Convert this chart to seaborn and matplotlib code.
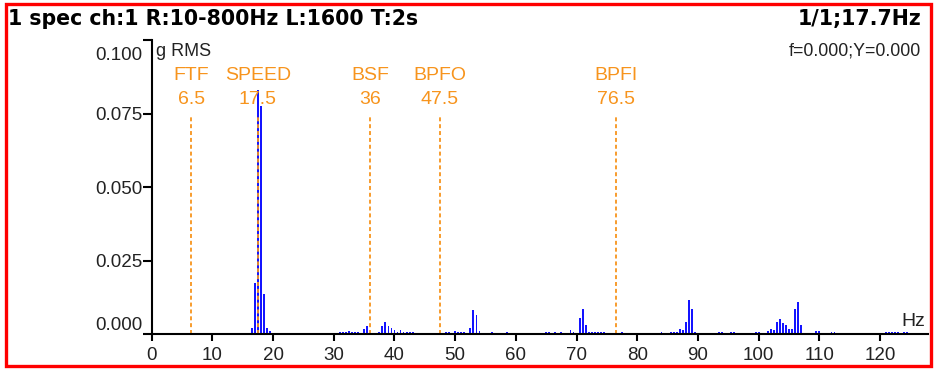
import matplotlib

matplotlib.use("Agg", force=True)
import matplotlib.pyplot as plt
import matplotlib.transforms as mtransforms
import pandas as pd
import seaborn as sns
from matplotlib.patches import Rectangle

# spectrum lines (0.5 Hz bins), only the non-zero ones
FREQS = [
    13.5, 16.0, 16.5, 17.0, 17.5, 18.0, 18.5, 19.0, 19.5,
    31.0, 31.5, 32.0, 32.5, 33.0, 33.5, 34.0, 35.0, 35.5,
    37.5, 38.0, 38.5, 39.0, 39.5, 40.0, 40.5, 41.0, 41.5, 42.0, 42.5, 43.0,
    48.5, 49.0, 50.0, 50.5, 51.0, 51.5, 52.5, 53.0, 53.5, 54.0,
    56.0, 58.5, 65.0, 65.5, 66.5, 67.5,
    69.0, 69.5, 70.5, 71.0, 71.5, 72.0, 72.5, 73.0, 73.5, 74.0, 74.5, 77.5,
    84.0, 85.5, 86.0, 86.5, 87.0, 87.5, 88.0, 88.5, 89.0, 89.5,
    93.5, 94.0, 95.5, 96.0, 99.5, 100.0,
    101.0, 101.5, 102.0, 102.5, 103.0, 103.5, 104.0, 104.5, 105.0, 105.5, 106.0, 106.5, 107.0,
    109.5, 110.0, 110.5, 112.0, 112.5,
    121.0, 121.5, 122.0, 122.5, 123.0, 124.0, 124.5,
]
AMPS = [
    0.0005, 0.0005, 0.0020, 0.0175, 0.0830, 0.0775, 0.0135, 0.0020, 0.0010,
    0.0006, 0.0006, 0.0006, 0.0010, 0.0006, 0.0008, 0.0006, 0.0016, 0.0027,
    0.0007, 0.0028, 0.0041, 0.0028, 0.0020, 0.0012, 0.0008, 0.0015, 0.0007, 0.0007, 0.0007, 0.0006,
    0.0006, 0.0006, 0.0011, 0.0007, 0.0007, 0.0007, 0.0021, 0.0083, 0.0066, 0.0011,
    0.0007, 0.0007, 0.0007, 0.0007, 0.0007, 0.0006,
    0.0014, 0.0006, 0.0054, 0.0085, 0.0030, 0.0006, 0.0006, 0.0006, 0.0006, 0.0006, 0.0006, 0.0006,
    0.0006, 0.0006, 0.0006, 0.0006, 0.0018, 0.0015, 0.0040, 0.0116, 0.0085, 0.0006,
    0.0006, 0.0006, 0.0006, 0.0006, 0.0006, 0.0006,
    0.0005, 0.0009, 0.0018, 0.0013, 0.0040, 0.0050, 0.0038, 0.0031, 0.0018, 0.0018, 0.0085, 0.0110, 0.0031,
    0.0009, 0.0009, 0.0005, 0.0006, 0.0006,
    0.0006, 0.0006, 0.0006, 0.0006, 0.0006, 0.0006, 0.0006,
]

MARKER_FREQS = [6.5, 17.5, 36.0, 47.5, 76.5]
MARKER_NAMES = ["FTF", "SPEED", "BSF", "BPFO", "BPFI"]
MARKER_LABELS = ["6.5", "17.5", "36", "47.5", "76.5"]

Y_TICKS = [0.0, 0.025, 0.05, 0.075, 0.1]
X_TICKS = [0, 10, 20, 30, 40, 50, 60, 70, 80, 90, 100, 110, 120]

BLUE = "#1414ff"
ORANGE = "#f7941d"

sns.set_theme(style="white")
plt.rcParams["font.family"] = ["Liberation Sans", "DejaVu Sans"]

W, H = 935, 369
fig = plt.figure(figsize=(W / 100, H / 100), dpi=100)
fig.patch.set_facecolor("white")

x0, x1, y0, y1 = 151.7, 928.0, 334.0, 40.0
ax = fig.add_axes([x0 / W, 1 - y0 / H, (x1 - x0) / W, (y0 - y1) / H])
ax.set_facecolor("white")

spec = pd.DataFrame({"freq": FREQS, "amp": AMPS})
sns.histplot(data=spec, x="freq", weights="amp", binwidth=0.5, binrange=(-0.25, 128.25),
             shrink=0.6, color=BLUE, alpha=1.0, linewidth=0, ax=ax)

ax.vlines(MARKER_FREQS, 0, 0.0745, colors=ORANGE, linestyles=(0, (2.2, 1.6)), lw=1.3)
for f, name, lab in zip(MARKER_FREQS, MARKER_NAMES, MARKER_LABELS):
    ax.text(f, 0.0878, name, color=ORANGE, ha="center", va="center", fontsize=14)
    ax.text(f, 0.0796, lab, color=ORANGE, ha="center", va="center", fontsize=14)

ax.set_xlim(0, 127.9)
ax.set_ylim(0, 0.1)
ax.set_xticks(X_TICKS)
ax.set_yticks(Y_TICKS)
ax.set_yticklabels([f"{v:.3f}" for v in Y_TICKS])
ax.set_xlabel("")
ax.set_ylabel("")
for side in ["top", "right"]:
    ax.spines[side].set_visible(False)
for side in ["left", "bottom"]:
    ax.spines[side].set_color("black")
    ax.spines[side].set_linewidth(1.5)
ax.tick_params(axis="both", direction="out", width=1.5, color="black",
               labelsize=13.5, labelcolor="#222222", left=True, bottom=True)
ax.tick_params(axis="y", length=6.5, pad=0.2)
ax.tick_params(axis="x", length=5, pad=4)

ylabels = ax.get_yticklabels()
ylabels[0].set_va("bottom")
ylabels[-1].set_va("top")
ylabels[-1].set_transform(ylabels[-1].get_transform()
                          + mtransforms.ScaledTranslation(0, -7 / 100, fig.dpi_scale_trans))

fig.text(8 / W, 1 - 19 / H, "1 spec ch:1 R:10-800Hz L:1600 T:2s", fontsize=14.8,
         fontweight="bold", family="DejaVu Sans", ha="left", va="center", color="black")
fig.text(921 / W, 1 - 19 / H, "1/1;17.7Hz", fontsize=14.8, fontweight="bold",
         family="DejaVu Sans", ha="right", va="center", color="black")
fig.text(921 / W, 1 - 51 / H, "f=0.000;Y=0.000", fontsize=12.8, ha="right",
         va="center", color="#222222")
fig.text(156 / W, 1 - 52 / H, "g RMS", fontsize=13, ha="left", va="center", color="#222222")
fig.text(925 / W, 1 - 322 / H, "Hz", fontsize=14, ha="right", va="center", color="#222222")

fig.patches.append(Rectangle((5.5 / W, 3.5 / H), (930.5 - 5.5) / W, (365.5 - 3.5) / H,
                             transform=fig.transFigure, fill=False, edgecolor="red",
                             linewidth=2.4))

fig.savefig("out.png", dpi=100)
